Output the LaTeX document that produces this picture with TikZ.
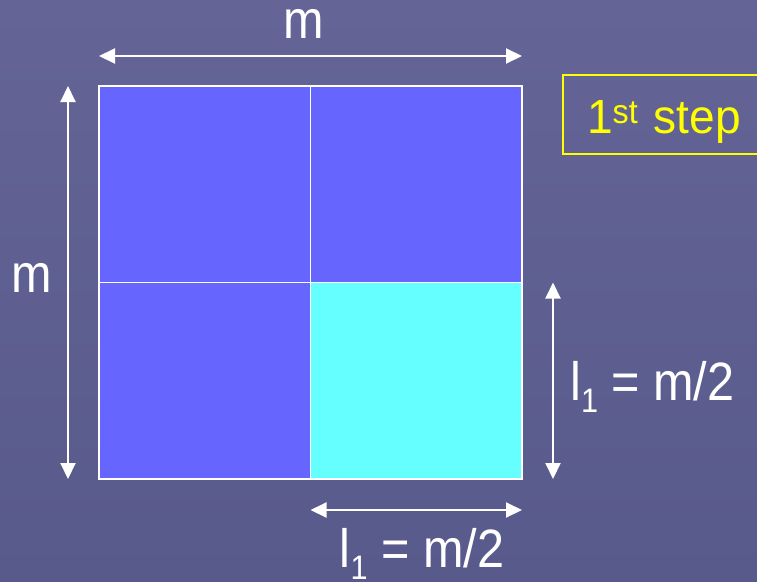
\documentclass[tikz,border=0pt]{standalone}
\usepackage{fontspec}
\setmainfont{Liberation Sans}
\usetikzlibrary{positioning,arrows.meta,calc}
\definecolor{slate}{RGB}{100,101,150}
\definecolor{slatedark}{RGB}{88,90,139}
\definecolor{cellblue}{RGB}{102,102,255}
\definecolor{cellcyan}{RGB}{102,255,255}
\definecolor{stepyellow}{RGB}{255,255,0}
\newcommand{\narrow}[1]{\scalebox{0.9}[1]{#1}}
\newcommand{\lsub}{l\raisebox{-12pt}{\fontsize{34}{34}\selectfont 1}}

\begin{document}
\begin{tikzpicture}[x=1pt,y=-1pt]
\tikzset{cell/.style={draw=white,line width=1.6pt,fill=cellblue,minimum width=211.5pt,minimum height=196.5pt,inner sep=0pt,outer sep=0pt}}
\tikzset{qcell/.style={cell,fill=cellcyan}}
\tikzset{dim/.style={white,line width=2pt,{Triangle[length=16pt,width=15pt]}-{Triangle[length=16pt,width=15pt]}}}
\tikzset{lbl/.style={text=white,inner sep=0pt,font=\fontsize{54}{58}\selectfont,text height=28pt}}
\tikzset{sublbl/.style={lbl,text height=40pt,text depth=12pt}}
% background
\shade[top color=slate,bottom color=slatedark] (0,0) rectangle (757,581);
\useasboundingbox (0,0) rectangle (757,581);

% the m x m square, split in four
\node[cell,anchor=north west] (c11) at (99,86) {};
\node[cell,right=0pt of c11] (c12) {};
\node[cell,below=0pt of c11] (c21) {};
\node[qcell,below=0pt of c12] (c22) {};

% dimension arrows
\coordinate (topA) at ($(c11.north west)+(0,-30)$);
\coordinate (topB) at ($(c12.north east)+(0,-30)$);
\coordinate (leftA) at ($(c11.north west)+(-31,0)$);
\coordinate (leftB) at ($(c21.south west)+(-31,0)$);
\coordinate (rightA) at ($(c22.north east)+(31,0)$);
\coordinate (rightB) at ($(c22.south east)+(31,0)$);
\coordinate (botA) at ($(c22.south west)+(0,31)$);
\coordinate (botB) at ($(c22.south east)+(0,31)$);
\draw[dim] (topA) -- (topB);
\draw[dim] (leftA) -- (leftB);
\draw[dim] (rightA) -- (rightB);
\draw[dim] (botA) -- (botB);

% labels
\node[lbl,anchor=base] (mtop) at (304,38) {\narrow{m}};
\node[lbl,anchor=base] (mleft) at (32,292) {\narrow{m}};
\node[sublbl,anchor=base west] (lright) at (570,400) {\narrow{\lsub{} = m/2}};
\node[sublbl,anchor=base] (lbot) at (422,567) {\narrow{\lsub{} = m/2}};

% step box, open on the right (it runs past the edge)
\node[text=stepyellow,anchor=north west,inner ysep=0pt,inner xsep=24pt,outer sep=0pt,
  text width=150pt,align=left,text height=58pt,text depth=21pt,font=\fontsize{48}{54}\selectfont] (stepbox) at (563,75) {\scalebox{0.96}[1]{1\textsuperscript{st} step}};
\draw[stepyellow,line width=1.6pt] (stepbox.north east) -- (stepbox.north west) -- (stepbox.south west) -- (stepbox.south east);
\end{tikzpicture}
\end{document}
